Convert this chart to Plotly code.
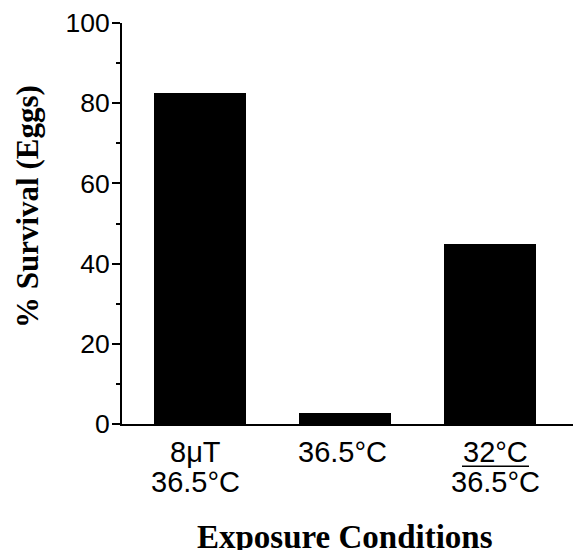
import plotly.graph_objects as go

# Data
categories = ["8μT 36.5°C", "36.5°C", "32°C/36.5°C"]
label_line1 = ["8μT", "36.5°C", "32°C"]
label_line2 = ["36.5°C", "", "36.5°C"]
survival = [82.5, 2.7, 45.0]
y_ticks = [0, 20, 40, 60, 80, 100]
y_title = "% Survival (Eggs)"
x_title = "Exposure Conditions"

OFF = 8  # page body margin
W, H = 581 - OFF, 550 - OFF
# screen-space targets
AX_X, Y0_PX, Y100_PX = 122, 424, 21
L = AX_X - OFF
T = Y100_PX - OFF
B = H - (Y0_PX - OFF)
R = 0
plot_w = W - L - R
plot_h = H - T - B

xpos = list(range(len(categories)))
spacing = 145.0
x_min = -(200 - AX_X) / spacing
x_max = x_min + plot_w / spacing

fig = go.Figure()
fig.add_trace(go.Bar(
    x=xpos, y=survival, width=0.63,
    marker=dict(color="black", line=dict(width=0)),
    showlegend=False,
))

def py_to_paper(py):  # screen y -> paper
    return (Y0_PX - py) / plot_h

def px_to_paper(px):  # screen x -> paper
    return (px - AX_X) / plot_w

sans = "Liberation Sans, Arial, sans-serif"
serif = "Liberation Serif, Times New Roman, serif"

xshifts = [-5, -3, 5]
annotations = []
for i, (l1, l2) in enumerate(zip(label_line1, label_line2)):
    annotations.append(dict(
        x=xpos[i], y=py_to_paper(452), xref="x", yref="paper",
        text=l1, showarrow=False, xshift=xshifts[i],
        xanchor="center", yanchor="middle",
        font=dict(family=sans, size=29, color="black"),
    ))
    if l2:
        annotations.append(dict(
            x=xpos[i], y=py_to_paper(482), xref="x", yref="paper",
            text=l2, showarrow=False, xshift=xshifts[i],
            xanchor="center", yanchor="middle",
            font=dict(family=sans, size=29, color="black"),
        ))

annotations.append(dict(
    x=px_to_paper(27), y=py_to_paper(206), xref="paper", yref="paper",
    text="<b>" + y_title + "</b>", showarrow=False, textangle=-90,
    xanchor="center", yanchor="middle",
    font=dict(family=serif, size=31, color="black"),
))
annotations.append(dict(
    x=px_to_paper(345), y=py_to_paper(538), xref="paper", yref="paper",
    text="<b>" + x_title + "</b>", showarrow=False,
    xanchor="center", yanchor="middle",
    font=dict(family=serif, size=33, color="black"),
))

# fraction bar under "32°C"
fig.add_shape(type="line", xref="x", yref="paper",
              x0=xpos[2] + (462 - 490) / spacing, x1=xpos[2] + (529 - 490) / spacing,
              y0=py_to_paper(466.5), y1=py_to_paper(466.5),
              line=dict(color="black", width=1.6))

fig.update_layout(
    width=W, height=H,
    margin=dict(l=L, r=R, t=T, b=B, pad=0),
    plot_bgcolor="white", paper_bgcolor="white",
    annotations=annotations,
    bargap=0,
    xaxis=dict(range=[x_min, x_max], showline=True, linecolor="black", linewidth=2,
               showticklabels=False, ticks="", showgrid=False, zeroline=False, fixedrange=True),
    yaxis=dict(range=[0, 100], showline=True, linecolor="black", linewidth=2,
               tickvals=y_ticks, ticks="outside", ticklen=8, tickwidth=2, tickcolor="black",
               minor=dict(tickvals=[10, 30, 50, 70, 90], ticks="outside", ticklen=4,
                          tickwidth=2, tickcolor="black"),
               tickfont=dict(family=sans, size=26.5, color="black"),
               ticklabelstandoff=-3, ticklabeloverflow="allow",
               showgrid=False, zeroline=False, fixedrange=True),
)

fig.write_html("out.html")
